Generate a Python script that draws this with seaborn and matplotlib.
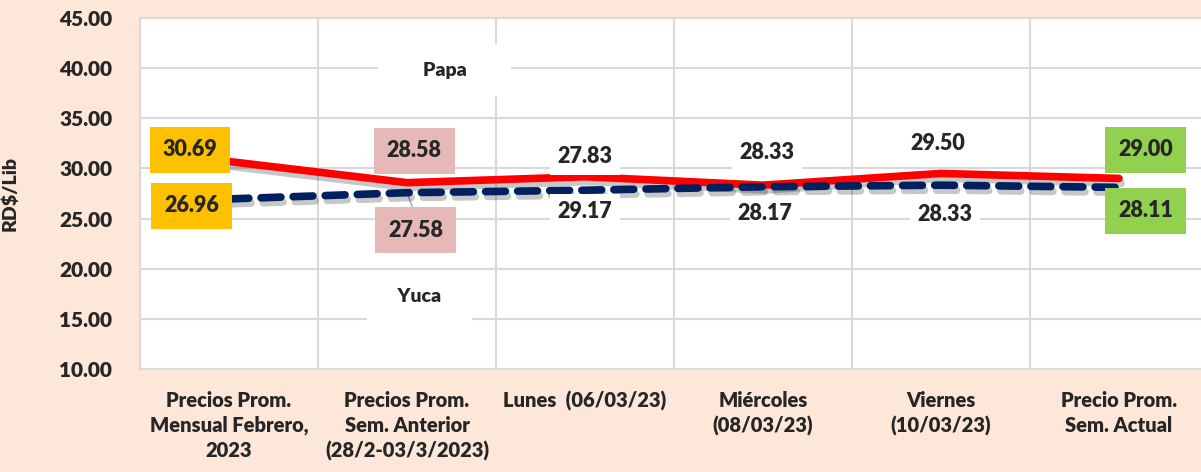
import seaborn as sns
import matplotlib.pyplot as plt
import matplotlib.patheffects as pe
import pandas as pd
import numpy as np

# categories and series values (RD$/Lib)
categorias = [
    "Precios Prom.\nMensual Febrero,\n2023",
    "Precios Prom.\nSem. Anterior\n(28/2-03/3/2023)",
    "Lunes  (06/03/23)",
    "Miércoles\n(08/03/23)",
    "Viernes\n(10/03/23)",
    "Precio Prom.\nSem. Actual",
]
papa = [30.69, 28.58, 29.17, 28.33, 29.50, 29.00]
yuca = [26.96, 27.58, 27.83, 28.17, 28.33, 28.11]
y_ticks = [10, 15, 20, 25, 30, 35, 40, 45]

# label placement (layout only): (x offset, y position) for upper / lower labels
label_upper = [(-0.22, 31.84), (0.04, 31.74), (0.0, 31.14), (0.02, 31.54), (-0.02, 32.5), (0.15, 31.84)]
label_lower = [(-0.21, 26.26), (0.05, 23.86), (0.0, 25.66), (0.01, 25.46), (0.02, 25.4), (0.15, 25.76)]
upper_text = [papa[0], papa[1], yuca[2], papa[3], papa[4], papa[5]]
lower_text = [yuca[0], yuca[1], papa[2], yuca[3], yuca[4], yuca[5]]
box_colors = ["#FFC000", "#E6B8B7", "white", "white", "white", "#92D050"]

bg = "#FCE7D9"
W = "heavy"
sns.set_style("white")
plt.rcParams["font.family"] = ["Lato", "DejaVu Sans"]

df = pd.DataFrame({"Categoria": categorias, "Papa": papa, "Yuca": yuca})
df["pos"] = np.arange(len(categorias))

fig = plt.figure(figsize=(12.01, 4.72), dpi=100, facecolor=bg)
ax = fig.add_axes([140 / 1201, 103 / 472, 1068 / 1201, 351 / 472])
ax.set_facecolor("white")

shadow = [pe.SimpleLineShadow(offset=(1.5, -3.5), shadow_color="black", alpha=0.22), pe.Normal()]
sns.lineplot(data=df, x="pos", y="Papa", ax=ax, color="#FF0000", lw=5.5,
             solid_capstyle="round", path_effects=shadow, zorder=3)
sns.lineplot(data=df, x="pos", y="Yuca", ax=ax, color="#002060", lw=5.5,
             dashes=(2.6, 1.6), dash_capstyle="round", path_effects=shadow, zorder=3)

ax.set_xlim(-0.5, 5.5)
ax.set_ylim(10, 45)
ax.set_yticks(y_ticks)
ax.set_yticklabels([f"{v:.2f}" for v in y_ticks], fontsize=15, fontweight=W)
ax.set_xticks(df["pos"])
ax.set_xticklabels(categorias, fontsize=14.5, fontweight=W, linespacing=1.35)
ax.set_xticks(np.arange(0.5, 5.5, 1), minor=True)
ax.tick_params(axis="y", length=0, pad=20)
ax.tick_params(axis="x", which="both", length=0, pad=16)
ax.grid(False)
ax.grid(True, axis="y", color="#D9D9D9", lw=1.5, zorder=0)
ax.grid(True, axis="x", which="minor", color="#D9D9D9", lw=1.5, zorder=0)
for s in ax.spines.values():
    s.set_color("#D9D9D9")
    s.set_linewidth(1.5)

ax.set_xlabel("")
ax.set_ylabel("RD\\$/Lib", fontsize=14, fontweight=W)
ax.yaxis.set_label_coords(-0.114, 0.5)

# data labels
for i in range(len(categorias)):
    pads = 0.6 if box_colors[i] != "white" else 0.35
    dx, yy = label_upper[i]
    ax.text(i + dx, yy, f"{upper_text[i]:.2f}", ha="center", va="center", fontsize=15.5,
            fontweight=W, zorder=5,
            bbox=dict(boxstyle=f"square,pad={pads}", fc=box_colors[i], ec="none"))
    dx, yy = label_lower[i]
    ax.text(i + dx, yy, f"{lower_text[i]:.2f}", ha="center", va="center", fontsize=15.5,
            fontweight=W, zorder=5,
            bbox=dict(boxstyle=f"square,pad={pads}", fc=box_colors[i], ec="none"))

# leader line for previous-week yuca label
ax.plot([1, 1.05], [yuca[1], 25.2], color="#A6A6A6", lw=1, zorder=2)

# series name labels
ax.text(1.21, 39.8, "      Papa      ", ha="center", va="center", fontsize=14,
        fontweight=W, zorder=5,
        bbox=dict(boxstyle="square,pad=0.9", fc="white", ec="none"))
ax.text(1.07, 17.2, "   Yuca   ", ha="center", va="center", fontsize=14,
        fontweight=W, zorder=5,
        bbox=dict(boxstyle="square,pad=0.9", fc="white", ec="none"))

fig.savefig("out.png", dpi=100, facecolor=bg)
